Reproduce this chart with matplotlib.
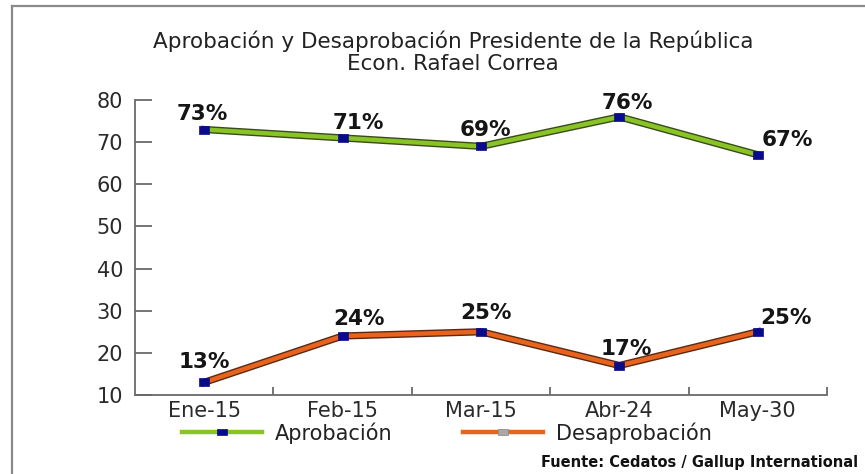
import matplotlib
matplotlib.use("Agg")
import matplotlib.pyplot as plt
import matplotlib.patheffects as pe
from matplotlib.lines import Line2D

categories = ["Ene-15", "Feb-15", "Mar-15", "Abr-24", "May-30"]
aprobacion = [73, 71, 69, 76, 67]
desaprobacion = [13, 24, 25, 17, 25]
yticks = [10, 20, 30, 40, 50, 60, 70, 80]
title1 = "Aprobación y Desaprobación Presidente de la República"
title2 = "Econ. Rafael Correa"
source = "Fuente: Cedatos / Gallup International"

# label offsets in points (style only)
off_apro = [(-1.5, 11.5), (11.5, 11), (3, 11.5), (6, 10), (21, 11)]
off_desa = [(0, 14.5), (12, 12), (3.5, 13.5), (5, 12), (20, 10)]

W, H = 865, 474
fig = plt.figure(figsize=(W / 100, H / 100), dpi=100)
fig.patch.set_facecolor("white")
ax = fig.add_axes([135 / W, 1 - 395 / H, (827 - 135) / W, (395 - 100) / H])

x = list(range(len(categories)))
green = "#88c426"
orange = "#e8641e"
navy = "#0a0a8c"
rect = [(-1, -0.72), (1, -0.72), (1, 0.72), (-1, 0.72), (-1, -0.72)]

for vals, col, edge in [(aprobacion, green, "#3b4a18"), (desaprobacion, orange, "#5a2a10")]:
    ax.plot(x, vals, color=col, lw=3.2, zorder=3, solid_joinstyle="miter",
            path_effects=[pe.Stroke(linewidth=5.2, foreground=edge), pe.Normal()])
    ax.plot(x, vals, ls="none", marker=rect, ms=7.5, mfc=navy, mec=navy, mew=0.5, zorder=4)

lab_font = dict(family="DejaVu Sans", weight="bold", size=15.5, color="#151515")
for xi, v, o in zip(x, aprobacion, off_apro):
    ax.annotate(f"{v}%", (xi, v), xytext=o, textcoords="offset points",
                ha="center", va="center", **lab_font)
for xi, v, o in zip(x, desaprobacion, off_desa):
    ax.annotate(f"{v}%", (xi, v), xytext=o, textcoords="offset points",
                ha="center", va="center", **lab_font)

ax.set_xlim(-0.5, len(categories) - 0.5)
ax.set_ylim(10, 80)
ax.set_yticks(yticks)
ax.set_xticks(x)
ax.set_xticklabels(categories)
ax.set_xticks([i + 0.5 for i in x], minor=True)

for s in ["top", "right"]:
    ax.spines[s].set_visible(False)
for s in ["left", "bottom"]:
    ax.spines[s].set_color("#6a6a6a")
    ax.spines[s].set_linewidth(1.3)

ax.tick_params(axis="y", direction="in", length=12, width=1.3, color="#6a6a6a",
               pad=8.5, labelsize=15, labelcolor="#2a2a2a")
ax.tick_params(axis="x", which="major", length=0, pad=4, labelsize=15, labelcolor="#2a2a2a")
ax.tick_params(axis="x", which="minor", direction="in", length=6, width=1.3, color="#6a6a6a")
for t in ax.get_xticklabels() + ax.get_yticklabels():
    t.set_family("DejaVu Sans")

# legend
h1 = Line2D([], [], color=green, lw=3.2, marker=rect, ms=7, mfc=navy, mec=navy, mew=0.5)
h2 = Line2D([], [], color=orange, lw=3.2, marker=rect, ms=7, mfc="#a8a8a8", mec="#888888", mew=0.5)
leg = fig.legend([h1, h2], ["Aprobación", "Desaprobación"], ncol=2,
                 loc="center left", bbox_to_anchor=(182 / W, 1 - 433 / H),
                 frameon=False, prop=dict(family="DejaVu Sans", size=15),
                 handlelength=3.85, handletextpad=0.6, columnspacing=3.4,
                 borderpad=0, borderaxespad=0)
for t in leg.get_texts():
    t.set_color("#222222")

# titles
fig.text(453 / W, 1 - 41 / H, title1, ha="center", va="center",
         family="DejaVu Sans", size=15.5, color="#222222")
fig.text(453 / W, 1 - 64 / H, title2, ha="center", va="center",
         family="DejaVu Sans", size=15.5, color="#222222")
fig.text(858 / W, 1 - 463 / H, source, ha="right", va="center",
         family="DejaVu Sans", weight="bold", size=10.5, color="#111111")

# frame
fig.add_artist(Line2D([12 / W, 12 / W], [0, 1 - 6 / H], transform=fig.transFigure,
                      color="#8a8a8a", lw=1.6))
fig.add_artist(Line2D([12 / W, 1], [1 - 6 / H, 1 - 6 / H], transform=fig.transFigure,
                      color="#8a8a8a", lw=1.6))

fig.savefig("out.png", dpi=100)
